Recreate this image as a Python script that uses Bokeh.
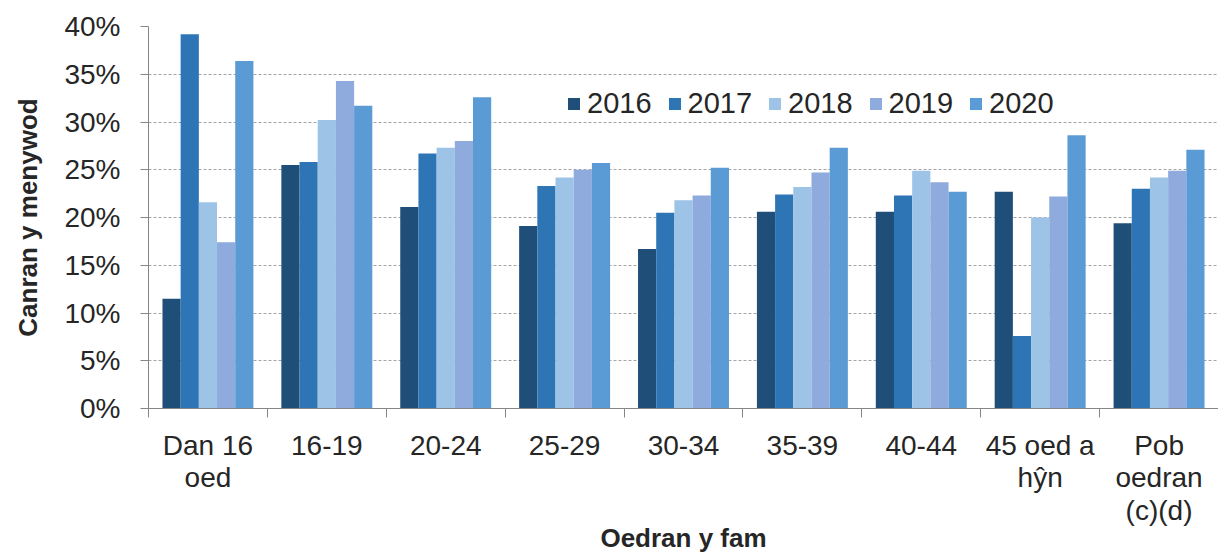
import numpy as np
from bokeh.plotting import figure
from bokeh.models import ColumnDataSource, FixedTicker, NumeralTickFormatter, Range1d
from bokeh.embed import file_html
from bokeh.resources import INLINE

categories = ["Dan 16\noed", "16-19", "20-24", "25-29", "30-34", "35-39",
              "40-44", "45 oed a\nhŷn", "Pob\noedran\n(c)(d)"]
years = ["2016", "2017", "2018", "2019", "2020"]
v2016 = [11.5, 25.5, 21.1, 19.1, 16.7, 20.6, 20.6, 22.7, 19.4]
v2017 = [39.2, 25.8, 26.7, 23.3, 20.5, 22.4, 22.3, 7.6, 23.0]
v2018 = [21.6, 30.2, 27.3, 24.2, 21.8, 23.2, 24.9, 20.0, 24.2]
v2019 = [17.4, 34.3, 28.0, 25.0, 22.3, 24.7, 23.7, 22.2, 24.9]
v2020 = [36.4, 31.7, 32.6, 25.7, 25.2, 27.3, 22.7, 28.6, 27.1]
series = [v2016, v2017, v2018, v2019, v2020]
colors = ["#1F4E79", "#2E75B6", "#9DC3E6", "#8FAADC", "#5B9BD5"]

FONT = "Liberation Sans"
TXT = "#262626"

p = figure(width=1218, height=556, output_backend="svg", toolbar_location=None,
           x_range=Range1d(0, len(categories)), y_range=Range1d(0, 0.40),
           min_border_left=148, min_border_right=0, min_border_top=26,
           min_border_bottom=147)

centers = np.arange(len(categories)) + 0.5
bw = 0.153
for j, (yr, vals, c) in enumerate(zip(years, series, colors)):
    src = ColumnDataSource(dict(x=centers + (j - 2) * bw,
                                top=np.array(vals) / 100.0))
    p.vbar(x="x", top="top", width=bw, bottom=0, source=src,
           fill_color=c, line_color=None, legend_label=yr)

# x axis
xa = p.xaxis[0]
xa.ticker = FixedTicker(ticks=list(centers), minor_ticks=list(range(len(categories) + 1)))
xa.major_label_overrides = {float(c): lab for c, lab in zip(centers, categories)}
xa.major_tick_line_color = None
xa.major_tick_out = 0
xa.major_tick_in = 0
xa.minor_tick_out = 9
xa.minor_tick_in = 0
xa.minor_tick_line_color = "#868686"
xa.axis_line_color = "#868686"
xa.major_label_text_font = FONT
xa.major_label_text_font_size = "28px"
xa.major_label_text_color = TXT
xa.major_label_text_line_height = 1.06
xa.major_label_standoff = 12
xa.axis_label = "Oedran y fam"
xa.axis_label_text_font = FONT
xa.axis_label_text_font_size = "26px"
xa.axis_label_text_font_style = "bold"
xa.axis_label_text_color = TXT
xa.axis_label_standoff = -6

# y axis
ya = p.yaxis[0]
ya.ticker = FixedTicker(ticks=[i * 0.05 for i in range(9)])
ya.formatter = NumeralTickFormatter(format="0%")
ya.major_tick_out = 8
ya.major_tick_in = 0
ya.minor_tick_line_color = None
ya.major_tick_line_color = "#868686"
ya.axis_line_color = "#868686"
ya.major_label_text_font = FONT
ya.major_label_text_font_size = "28px"
ya.major_label_text_color = TXT
ya.major_label_standoff = 20
ya.axis_label = "Canran y menywod"
ya.axis_label_text_font = FONT
ya.axis_label_text_font_size = "26px"
ya.axis_label_text_font_style = "bold"
ya.axis_label_text_color = TXT
ya.axis_label_standoff = 18

p.xgrid.grid_line_color = None
p.ygrid.grid_line_color = "#a6a6a6"
p.ygrid.grid_line_dash = "3 2"
p.outline_line_color = None

lg = p.legend[0]
lg.orientation = "horizontal"
lg.location = (418, 288)
lg.background_fill_alpha = 0
lg.border_line_color = None
lg.padding = 0
lg.margin = 0
lg.spacing = 15
lg.glyph_width = 15
lg.glyph_height = 15
lg.label_standoff = 6
lg.label_text_font = FONT
lg.label_text_font_size = "29px"
lg.label_text_color = TXT

open("out.html", "w").write(file_html(p, INLINE))
